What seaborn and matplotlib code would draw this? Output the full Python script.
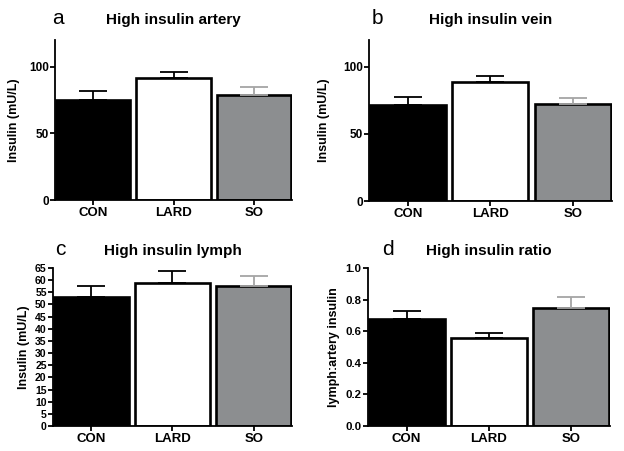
import numpy as np
import seaborn as sns
import matplotlib
matplotlib.use("Agg")
import matplotlib.pyplot as plt

## data (mean + upper SEM)
groups = ["CON", "LARD", "SO"]
artery = [75.0, 91.5, 79.0]
artery_err = [6.5, 4.5, 5.5]
vein = [71.5, 89.0, 72.0]
vein_err = [6.0, 4.0, 4.5]
lymph = [53.0, 58.7, 57.7]
lymph_err = [4.5, 5.0, 4.0]
ratio = [0.68, 0.557, 0.747]
ratio_err = [0.045, 0.03, 0.068]

bar_colors = ["black", "white", "#8c8e90"]
err_colors = ["black", "black", "#a5a5a5"]

sns.set_style("ticks")
plt.rcParams["font.family"] = ["Liberation Sans", "DejaVu Sans"]
plt.rcParams["font.weight"] = "bold"
## seaborn greys the text, the original is plain black
for k in ["text.color", "axes.labelcolor", "xtick.color", "ytick.color"]:
    plt.rcParams[k] = "black"

fig = plt.figure(figsize=(6.24, 4.51), dpi=100)

## [left, bottom, width, height], letter, title, ylabel, ylim, yticks, labelx
panels = [
    ([0.0881, 0.5565, 0.380, 0.3548], "a", "High insulin artery", "Insulin (mU/L)",
     artery, artery_err, (0, 120), [0, 50, 100], -0.148, 8.5),
    ([0.5913, 0.5543, 0.3894, 0.3570], "b", "High insulin vein", "Insulin (mU/L)",
     vein, vein_err, (0, 120), [0, 50, 100], -0.160, 8.5),
    ([0.0849, 0.0554, 0.383, 0.3504], "c", "High insulin lymph", "Insulin (mU/L)",
     lymph, lymph_err, (0, 65), list(range(0, 66, 5)), -0.096, 7.6),
    ([0.5897, 0.0554, 0.3878, 0.3504], "d", "High insulin ratio", "lymph:artery insulin",
     ratio, ratio_err, (0, 1.0), [0.0, 0.2, 0.4, 0.6, 0.8, 1.0], -0.116, 8.2),
]

for rect, letter, title, ylab, vals, errs, ylim, yticks, labx, ytsize in panels:
    ax = fig.add_axes(rect)
    sns.barplot(x=groups, y=vals, hue=groups, palette=bar_colors, legend=False,
                width=0.92, edgecolor="black", linewidth=1.9, saturation=1,
                ax=ax)
    # only the upper half of the error bars is shown
    for i in range(3):
        ax.errorbar(i, vals[i], yerr=[[0], [errs[i]]], fmt="none",
                    ecolor=err_colors[i], elinewidth=1.3, capsize=10,
                    capthick=1.3, zorder=1)
    ax.set_xlim(-0.47, 2.47)
    ax.set_ylim(*ylim)
    ax.set_yticks(yticks)
    if ylim[1] == 1.0:
        ax.set_yticklabels([f"{t:.1f}" for t in yticks])
    sns.despine(ax=ax)
    for s in ["left", "bottom"]:
        ax.spines[s].set_linewidth(1.3)
        ax.spines[s].set_color("black")
    ax.tick_params(axis="both", direction="out", length=3.5, width=1.3,
                   color="black", labelcolor="black")
    ax.tick_params(axis="y", labelsize=ytsize, pad=1)
    ax.tick_params(axis="x", labelsize=9.5, pad=1.5)
    for t in ax.get_xticklabels() + ax.get_yticklabels():
        t.set_fontweight("bold")
    ax.set_xlabel("")
    ax.set_ylabel(ylab, fontsize=9, fontweight="bold", color="black")
    ax.yaxis.set_label_coords(labx, 0.5)

    # panel letter and title above each axes
    pos = ax.get_position()
    cx = pos.x0 + pos.width / 2
    ty = pos.y1 + 0.045 if letter in "ab" else pos.y1 + 0.037
    fig.text(cx, ty, title, ha="center", va="center", fontsize=11,
             fontweight="bold", color="black")
    lx = {"a": 58, "b": 377, "c": 60, "d": 388}[letter] / 624
    fig.text(lx, ty + 0.003, letter, ha="center", va="center", fontsize=15,
             fontweight="normal", color="black")

fig.savefig("out.png", dpi=100)
